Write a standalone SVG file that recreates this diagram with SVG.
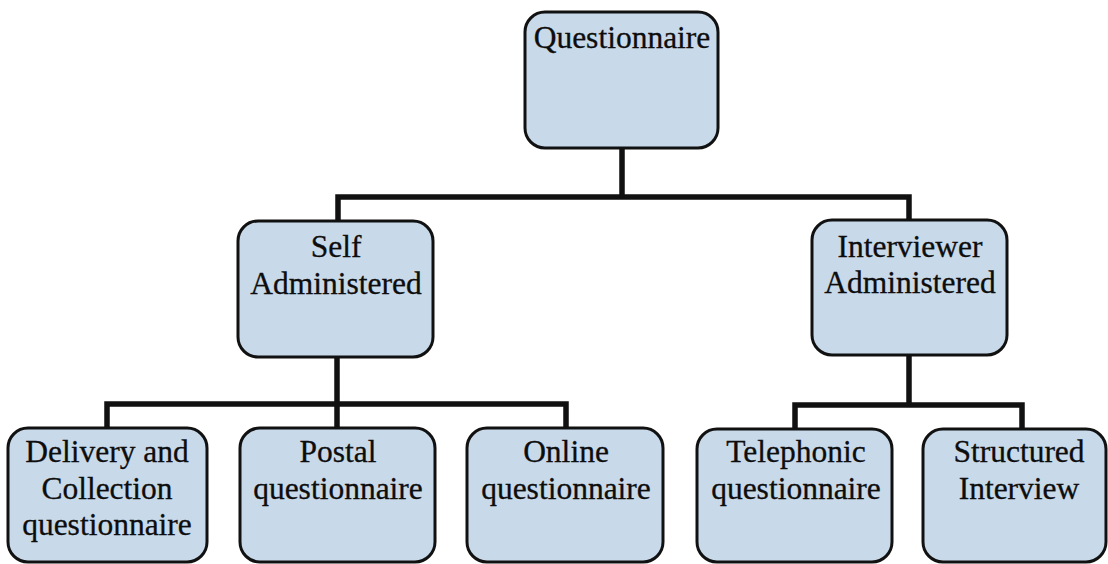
<svg xmlns="http://www.w3.org/2000/svg" width="1108" height="564" viewBox="0 0 1108 564">
  <style>
    .box { fill: #c8d9ea; stroke: #111111; stroke-width: 3; }
    .lbl { font-family: "Liberation Serif", "Times New Roman", serif; font-size: 31.5px; fill: #0d0d0d; stroke: #0d0d0d; stroke-width: 0.3; text-anchor: middle; }
    .wire { fill: none; stroke: #111; stroke-width: 5.5; stroke-linejoin: miter; stroke-linecap: butt; }
  </style>
  <rect width="1108" height="564" fill="#ffffff"/>

  <!-- connectors -->
  <g id="connectors">
    <path class="wire" d="M622,148 V197 M338,221 V197 H909 V221"/>
    <path class="wire" d="M337,357 V404 M107,428 V404 H566 V428 M337,404 V428"/>
    <path class="wire" d="M909,355 V405 M795,429 V405 H1022 V429"/>
  </g>

  <!-- root -->
  <g id="questionnaire">
    <rect class="box" x="525" y="12" width="193" height="136" rx="20"/>
    <text class="lbl" x="622" y="48">Questionnaire</text>
  </g>

  <!-- second level -->
  <g id="self-administered">
    <rect class="box" x="238" y="221" width="195" height="136" rx="20"/>
    <text class="lbl" x="336" y="257">Self</text>
    <text class="lbl" x="336" y="294">Administered</text>
  </g>
  <g id="interviewer-administered">
    <rect class="box" x="812" y="220" width="195" height="135" rx="20"/>
    <text class="lbl" x="910" y="257">Interviewer</text>
    <text class="lbl" x="910" y="293">Administered</text>
  </g>

  <!-- third level -->
  <g id="delivery-collection">
    <rect class="box" x="8" y="428" width="199" height="134" rx="20"/>
    <text class="lbl" x="107" y="462">Delivery and</text>
    <text class="lbl" x="107" y="499">Collection</text>
    <text class="lbl" x="107" y="535">questionnaire</text>
  </g>
  <g id="postal">
    <rect class="box" x="240" y="428" width="195" height="134" rx="20"/>
    <text class="lbl" x="338" y="462">Postal</text>
    <text class="lbl" x="338" y="499">questionnaire</text>
  </g>
  <g id="online">
    <rect class="box" x="467" y="428" width="196" height="134" rx="20"/>
    <text class="lbl" x="566" y="462">Online</text>
    <text class="lbl" x="566" y="499">questionnaire</text>
  </g>
  <g id="telephonic">
    <rect class="box" x="697" y="429" width="195" height="133" rx="20"/>
    <text class="lbl" x="796" y="462">Telephonic</text>
    <text class="lbl" x="796" y="499">questionnaire</text>
  </g>
  <g id="structured-interview">
    <rect class="box" x="923" y="429" width="183" height="133" rx="20"/>
    <text class="lbl" x="1019" y="462">Structured</text>
    <text class="lbl" x="1019" y="499">Interview</text>
  </g>
</svg>
